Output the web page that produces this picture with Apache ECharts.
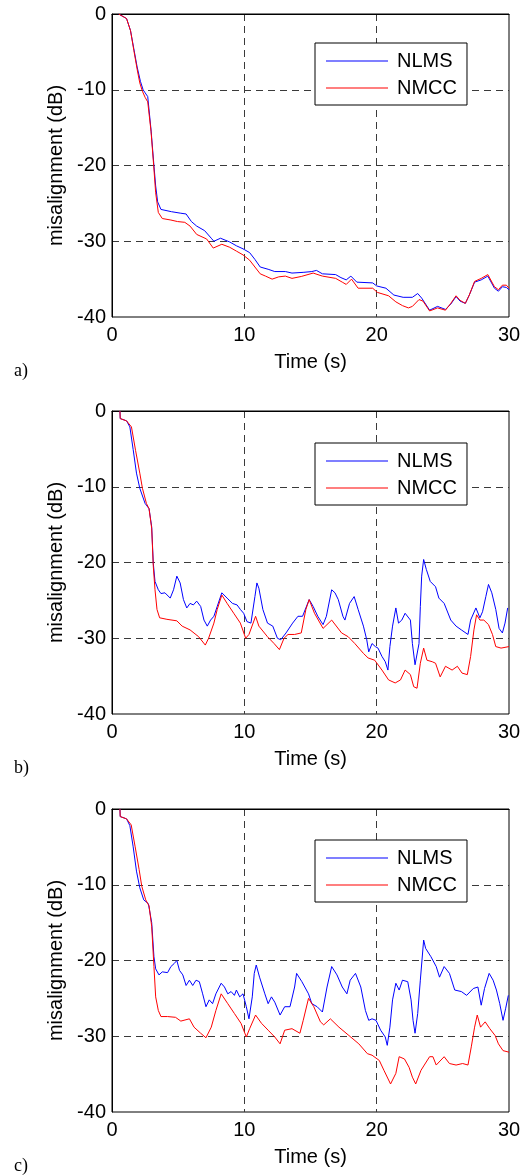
<!DOCTYPE html>
<html><head><meta charset="utf-8">
<script src="https://cdn.jsdelivr.net/npm/echarts@6/dist/echarts.min.js"></script>
<style>html,body{margin:0;padding:0;background:#fff}#c{width:529px;height:1175px}</style>
</head><body><div id="c"></div><script>
// ---- data: [time (s), misalignment (dB)] ----
const xTicks = [0, 10, 20, 30];
const yTicks = [-40, -30, -20, -10, 0];
const seriesNames = ['NLMS', 'NMCC'];
const panelLabels = ['a)', 'b)', 'c)'];

const a_NLMS = [[0.5,0],[1.1,-0.6],[1.4,-2.2],[1.65,-4.6],[1.9,-7.0],[2.15,-8.9],[2.35,-10.0],[2.5,-10.4],[2.7,-10.9],[2.95,-15.3],[3.15,-19.6],[3.3,-22.7],[3.45,-24.8],[3.7,-25.8],[4.5,-26.1],[5.2,-26.3],[5.6,-26.4],[6.0,-27.4],[6.4,-28.0],[7.0,-28.6],[7.5,-29.6],[7.7,-30.0],[8.2,-29.6],[8.9,-30.1],[9.4,-30.6],[9.9,-31.0],[10.4,-31.5],[10.8,-32.4],[11.2,-33.4],[11.8,-33.7],[12.3,-34.0],[13.1,-34.0],[13.6,-34.2],[14.5,-34.1],[15.1,-34.0],[15.45,-33.85],[15.9,-34.3],[16.9,-34.4],[17.3,-34.8],[17.7,-35.1],[18.05,-34.6],[18.5,-35.4],[19.7,-35.5],[20.0,-35.9],[20.7,-36.2],[21.3,-37.1],[22.0,-37.4],[22.7,-37.4],[23.1,-36.9],[23.4,-37.5],[24.0,-39.1],[24.6,-38.6],[25.2,-39.0],[25.6,-38.3],[26.0,-37.3],[26.3,-37.9],[26.7,-38.2],[27.0,-37.1],[27.4,-35.4],[27.9,-35.1],[28.4,-34.6],[28.9,-36.2],[29.2,-36.6],[29.5,-36.0],[29.8,-36.1],[30,-36.4]];
const a_NMCC = [[0.5,0],[1.1,-0.6],[1.4,-2.2],[1.65,-4.8],[1.9,-7.3],[2.1,-9.1],[2.3,-10.2],[2.5,-11.0],[2.7,-11.6],[2.95,-15.5],[3.15,-20.0],[3.3,-23.6],[3.5,-26.2],[3.8,-27.0],[4.45,-27.2],[4.95,-27.4],[5.5,-27.5],[5.9,-28.0],[6.4,-29.1],[7.15,-29.7],[7.65,-30.9],[8.3,-30.4],[8.9,-30.8],[9.4,-31.3],[9.9,-31.8],[10.4,-32.5],[10.8,-33.4],[11.2,-34.3],[11.6,-34.6],[12.1,-35.0],[12.6,-34.7],[13.1,-34.6],[13.6,-34.9],[14.3,-34.65],[15.2,-34.2],[15.9,-34.6],[16.9,-34.9],[17.4,-35.4],[17.7,-35.7],[18.1,-35.0],[18.6,-36.2],[19.7,-36.2],[20.05,-36.75],[20.9,-37.2],[21.45,-38.0],[21.95,-38.5],[22.4,-38.8],[22.7,-38.6],[23.2,-37.7],[23.5,-37.9],[24.0,-39.2],[24.6,-38.8],[25.2,-39.1],[25.6,-38.2],[26.0,-37.2],[26.3,-37.8],[26.7,-38.2],[27.0,-37.1],[27.4,-35.3],[27.9,-34.9],[28.4,-34.4],[28.9,-36.0],[29.2,-36.4],[29.5,-35.8],[29.8,-35.8],[30,-36.2]];

const b_NLMS = [[0.6,0],[0.62,-1.0],[1.1,-1.3],[1.35,-2.1],[1.6,-5.1],[1.85,-8.2],[2.1,-10.2],[2.5,-12.2],[2.8,-12.9],[3.0,-15.3],[3.12,-20.1],[3.25,-22.5],[3.5,-23.6],[3.7,-24.1],[4.0,-24.0],[4.4,-24.7],[4.65,-23.6],[4.9,-21.8],[5.15,-22.7],[5.4,-24.9],[5.65,-26.0],[5.9,-25.4],[6.15,-25.6],[6.4,-25.1],[6.7,-25.8],[6.95,-27.6],[7.2,-28.4],[7.45,-27.6],[7.7,-27.1],[7.95,-25.8],[8.3,-24.0],[8.7,-24.7],[9.1,-25.4],[9.45,-25.6],[9.7,-26.2],[9.95,-26.7],[10.2,-27.8],[10.5,-28.0],[10.8,-24.5],[10.95,-22.7],[11.1,-23.4],[11.4,-26.2],[11.75,-28.0],[12.15,-28.4],[12.5,-30.0],[12.75,-30.2],[13.15,-29.3],[13.65,-28.0],[14.05,-27.1],[14.4,-27.1],[14.9,-24.9],[15.2,-25.8],[15.55,-27.1],[15.95,-28.2],[16.2,-27.1],[16.6,-23.6],[16.85,-24.0],[17.1,-24.9],[17.45,-27.1],[17.6,-27.6],[17.95,-25.4],[18.3,-24.5],[18.6,-26.2],[19.0,-28.4],[19.25,-30.2],[19.4,-31.8],[19.65,-30.7],[19.9,-31.1],[20.1,-31.3],[20.4,-32.4],[20.65,-33.1],[20.85,-34.2],[21.0,-31.1],[21.2,-28.4],[21.45,-26.0],[21.65,-28.0],[21.9,-27.6],[22.15,-26.7],[22.55,-27.6],[22.7,-30.7],[22.9,-33.5],[23.2,-30.7],[23.3,-25.8],[23.4,-21.8],[23.55,-19.6],[23.75,-20.9],[24.05,-22.5],[24.45,-23.2],[24.7,-24.7],[25.1,-25.4],[25.6,-27.6],[26.0,-28.4],[26.4,-28.9],[26.9,-29.5],[27.1,-27.6],[27.5,-26.0],[27.8,-27.3],[28.0,-26.5],[28.25,-24.5],[28.45,-22.9],[28.7,-24.0],[29.0,-26.2],[29.25,-28.7],[29.5,-29.3],[29.7,-28.0],[29.9,-26.0]];
const b_NMCC = [[0.6,0],[0.62,-1.0],[1.1,-1.3],[1.47,-2.1],[1.78,-5.2],[2.1,-8.2],[2.3,-10.2],[2.6,-12.2],[2.8,-12.9],[3.0,-15.5],[3.12,-20.5],[3.25,-23.6],[3.4,-26.2],[3.6,-27.3],[4.15,-27.5],[4.9,-27.7],[5.3,-28.4],[5.9,-28.9],[6.55,-29.8],[7.05,-30.9],[7.3,-30.0],[7.7,-28.0],[7.95,-26.2],[8.3,-24.3],[8.7,-25.4],[9.2,-26.7],[9.7,-28.0],[10.1,-30.0],[10.35,-29.5],[10.85,-27.1],[11.1,-28.4],[11.75,-29.8],[12.25,-30.7],[12.65,-31.5],[13.0,-30.0],[13.3,-29.5],[13.8,-29.5],[14.3,-29.3],[14.65,-26.2],[14.9,-24.9],[15.3,-26.7],[15.95,-28.7],[16.6,-27.6],[17.35,-29.3],[17.85,-29.8],[18.35,-30.7],[19.0,-32.0],[19.35,-32.6],[19.85,-32.9],[20.4,-34.2],[20.9,-35.5],[21.4,-35.9],[21.8,-35.5],[22.15,-34.2],[22.55,-34.8],[22.8,-36.4],[23.05,-36.6],[23.3,-33.3],[23.55,-31.3],[23.8,-32.9],[24.2,-33.1],[24.45,-33.3],[24.8,-35.1],[25.2,-33.7],[25.7,-34.2],[26.1,-33.7],[26.45,-34.6],[26.85,-34.8],[27.1,-32.4],[27.35,-28.9],[27.55,-26.9],[27.8,-27.6],[28.1,-27.6],[28.45,-28.2],[28.75,-29.5],[29.0,-31.1],[29.4,-31.3],[30,-31.1]];

const c_NLMS = [[0.6,0],[0.62,-1.0],[1.1,-1.3],[1.35,-2.2],[1.6,-5.0],[1.85,-8.2],[2.1,-10.4],[2.4,-12.0],[2.75,-12.5],[3.0,-15.0],[3.17,-19.5],[3.3,-21.1],[3.55,-21.9],[3.8,-21.5],[4.2,-21.6],[4.45,-20.8],[4.7,-20.4],[4.9,-20.0],[5.1,-21.3],[5.35,-21.9],[5.6,-23.3],[5.85,-22.6],[6.1,-23.3],[6.35,-22.6],[6.6,-22.8],[6.85,-24.4],[7.1,-26.1],[7.35,-25.2],[7.6,-25.7],[7.85,-24.4],[8.25,-23.0],[8.5,-23.5],[8.75,-24.4],[9.0,-24.1],[9.25,-24.6],[9.4,-23.9],[9.65,-24.8],[9.9,-24.4],[10.15,-26.1],[10.35,-27.7],[10.6,-24.8],[10.75,-21.7],[10.9,-20.6],[11.15,-22.2],[11.55,-24.4],[11.8,-25.7],[12.05,-24.8],[12.3,-25.5],[12.7,-27.2],[13.05,-26.1],[13.45,-26.1],[13.8,-23.5],[13.95,-21.7],[14.35,-22.8],[14.85,-24.4],[15.1,-25.7],[15.5,-26.1],[15.9,-26.8],[16.25,-23.5],[16.6,-20.8],[17.0,-21.9],[17.4,-23.5],[17.75,-24.4],[18.0,-22.6],[18.4,-21.7],[18.8,-23.5],[19.15,-26.6],[19.4,-27.9],[19.65,-27.7],[19.95,-27.9],[20.3,-29.2],[20.65,-30.1],[20.8,-31.2],[21.0,-28.8],[21.2,-25.2],[21.45,-23.0],[21.7,-23.9],[21.95,-22.6],[22.35,-22.8],[22.6,-25.2],[22.75,-27.9],[22.9,-29.6],[23.1,-27.0],[23.3,-22.6],[23.55,-17.3],[23.7,-18.4],[24.1,-19.5],[24.5,-20.8],[24.75,-22.2],[25.1,-20.8],[25.5,-21.7],[25.9,-23.9],[26.4,-24.1],[26.8,-24.6],[27.3,-23.7],[27.65,-23.5],[27.9,-25.9],[28.15,-23.7],[28.5,-21.7],[28.8,-22.6],[29.05,-23.9],[29.3,-25.7],[29.55,-27.9],[29.75,-26.3],[29.95,-24.6]];
const c_NMCC = [[0.6,0],[0.62,-1.0],[1.1,-1.3],[1.45,-2.1],[1.75,-5.0],[2.05,-8.0],[2.25,-10.2],[2.55,-12.0],[2.8,-12.8],[3.0,-15.5],[3.17,-20.8],[3.3,-24.8],[3.5,-26.6],[3.7,-27.4],[4.2,-27.4],[4.8,-27.5],[5.2,-28.0],[5.85,-27.7],[6.2,-28.8],[6.7,-29.6],[7.1,-30.2],[7.5,-28.8],[7.85,-26.6],[8.25,-24.4],[8.75,-25.7],[9.25,-27.0],[9.75,-28.3],[10.15,-30.1],[10.4,-29.0],[10.85,-27.2],[11.3,-28.3],[11.8,-29.2],[12.3,-30.1],[12.7,-31.0],[13.05,-29.2],[13.6,-29.0],[14.2,-29.6],[14.45,-27.9],[14.85,-25.0],[15.25,-26.1],[15.75,-28.1],[16.0,-28.5],[16.5,-27.7],[17.15,-28.8],[17.9,-29.9],[18.65,-31.0],[19.3,-32.3],[19.65,-32.5],[20.2,-33.2],[20.55,-34.5],[21.05,-36.3],[21.45,-34.9],[21.7,-32.7],[22.1,-33.0],[22.45,-34.1],[22.7,-35.4],[22.95,-36.3],[23.35,-34.5],[23.6,-33.8],[24.0,-32.7],[24.25,-32.7],[24.5,-33.8],[25.1,-32.7],[25.5,-33.6],[26.0,-33.8],[26.5,-33.6],[26.9,-33.8],[27.15,-31.4],[27.4,-28.8],[27.6,-27.2],[27.85,-28.8],[28.2,-28.1],[28.55,-29.0],[28.95,-29.9],[29.2,-31.0],[29.55,-31.9],[30,-32.1]];

const panels = [[a_NLMS, a_NMCC], [b_NLMS, b_NMCC], [c_NLMS, c_NMCC]];

// ---- layout ----
const FONT = 'Liberation Sans, Arial, Helvetica, sans-serif';
const FS = 20;
const tops = [14, 411, 809];
const PLOT_L = 112, PLOT_W = 397, PLOT_H = 303;
const legendTops = [43, 443, 840];
const colors = ['#0000ff', '#ff0000'];

const grid = [], xAxis = [], yAxis = [], series = [], legend = [], graphic = [];
tops.forEach((top, i) => {
  grid.push({left: PLOT_L, top: top, width: PLOT_W, height: PLOT_H, show: true,
    borderColor: '#000', borderWidth: 1, backgroundColor: '#fff'});
  const dash = {show: true, showMinLine: false, showMaxLine: false,
    lineStyle: {color: '#3a3a3a', width: 1, type: [7, 5]}};
  xAxis.push({type: 'value', gridIndex: i, min: xTicks[0], max: xTicks[xTicks.length - 1], interval: 10,
    axisLine: {show: true, lineStyle: {color: '#000', width: 1}}, axisTick: {show: false},
    axisLabel: {color: '#000', fontSize: FS, fontFamily: FONT, margin: 8},
    splitLine: dash, name: 'Time (s)', nameLocation: 'middle', nameGap: 35,
    nameTextStyle: {color: '#000', fontSize: FS, fontFamily: FONT}});
  yAxis.push({type: 'value', gridIndex: i, min: yTicks[0], max: yTicks[yTicks.length - 1], interval: 10,
    axisLine: {show: true, lineStyle: {color: '#000', width: 1}}, axisTick: {show: false},
    axisLabel: {color: '#000', fontSize: FS, fontFamily: FONT, margin: 6},
    splitLine: dash, name: 'misalignment (dB)', nameLocation: 'middle', nameGap: 46,
    nameTextStyle: {color: '#000', fontSize: FS, fontFamily: FONT}});
  panels[i].forEach((d, k) => {
    series.push({type: 'line', name: seriesNames[k], xAxisIndex: i, yAxisIndex: i, data: d,
      symbol: 'none', showSymbol: false, color: colors[k],
      lineStyle: {color: colors[k], width: 1}, animation: false, z: 3 + k});
  });
  legend.push({data: seriesNames, orient: 'vertical', left: 315, top: legendTops[i],
    icon: 'path://M0,0L62,0L62,1L0,1Z', itemWidth: 62, itemHeight: 12, itemGap: 7,
    padding: [8, 10, 7, 11], itemStyle: {borderWidth: 0},
    borderColor: '#000', borderWidth: 1, backgroundColor: '#fff',
    textStyle: {color: '#000', fontSize: FS, fontFamily: FONT, padding: [0, 0, 0, 4]}, selectedMode: false});
  graphic.push({type: 'text', left: 14, top: top + PLOT_H + 45,
    style: {text: panelLabels[i], font: '18px "Liberation Serif", "Times New Roman", serif', fill: '#000'}});
});

const chart = echarts.init(document.getElementById('c'), null, {renderer: 'canvas'});
chart.setOption({animation: false, backgroundColor: '#fff', grid, xAxis, yAxis, series, legend, graphic});
</script></body></html>
